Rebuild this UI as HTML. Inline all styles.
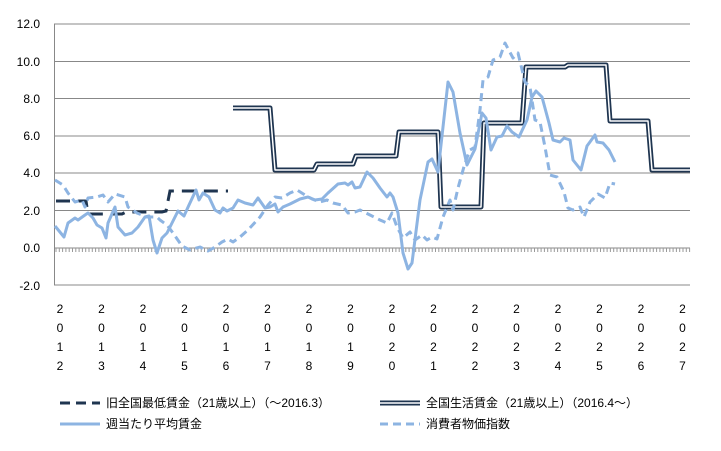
<!DOCTYPE html>
<html><head><meta charset="utf-8"><style>
body{margin:0;background:#fff;}
text{font-family:"Liberation Sans","Noto Sans CJK JP",sans-serif;font-size:12px;fill:#000;}
</style></head><body>
<svg width="721" height="446" xmlns="http://www.w3.org/2000/svg">
<g stroke="#888" stroke-width="1">
<line x1="54" y1="24" x2="690" y2="24"/><line x1="54" y1="61.5" x2="690" y2="61.5"/>
<line x1="54" y1="98.5" x2="690" y2="98.5"/><line x1="54" y1="136" x2="690" y2="136"/>
<line x1="54" y1="173" x2="690" y2="173"/><line x1="54" y1="210.5" x2="690" y2="210.5"/>
<line x1="54" y1="248" x2="690" y2="248"/><line x1="54" y1="285" x2="690" y2="285"/>
<line x1="54.5" y1="24" x2="54.5" y2="285"/>
</g>
<path id="ticks" stroke="#999" stroke-width="1" d=""/>
<g text-anchor="end">
<text x="40" y="28">12.0</text><text x="40" y="66">10.0</text><text x="40" y="103">8.0</text>
<text x="40" y="140">6.0</text><text x="40" y="177">4.0</text><text x="40" y="215">2.0</text>
<text x="40" y="252">0.0</text><text x="40" y="290">-2.0</text>
</g>
<g id="xl" text-anchor="middle"></g>
<polyline fill="none" stroke="#1F3550" stroke-width="3" stroke-dasharray="14,8" points="56,201 86,201 88,214 122,214 126,212 162,212 166,211 170,191 228,191"/>
<g fill="none" stroke-linejoin="round">
<polyline stroke="#1F3550" stroke-width="5" points="233,108 270,108 275,170 314,170 317,164 353,164 356,156 396,156 399,132 438,132 441,207 481,207 484,123 522,123 526,67 565,67 568,65 606,65 610,121 648,121 652,170 690,170"/>
<polyline stroke="#fff" stroke-width="1.5" points="233,108 270,108 275,170 314,170 317,164 353,164 356,156 396,156 399,132 438,132 441,207 481,207 484,123 522,123 526,67 565,67 568,65 606,65 610,121 648,121 652,170 690,170"/>
</g>
<polyline fill="none" stroke="#8DB4E2" stroke-width="3" stroke-linejoin="round" points="55,226 64,237 68,223 75,218 78,220 85,215 88,213 93,218 97,225 102,228 106,238 108,223 115,207 118,227 125,235 132,233 138,227 145,217 149,216 153,240 157,253 162,238 167,233 172,223 178,211 184,216 189,205 196,190 199,200 203,193 209,197 215,210 220,213 223,208 227,211 233,208 238,200 245,203 253,205 258,198 265,208 270,207 275,204 278,212 283,207 290,204 300,199 308,197 315,200 322,199 328,193 338,184 345,183 348,185 352,182 355,188 360,187 367,172 373,178 380,188 387,197 390,193 393,197 398,213 403,253 408,269 412,263 420,200 428,162 432,159 438,172 448,82 453,92 460,133 467,165 475,149 482,113 486,118 491,150 497,137 502,136 507,126 512,132 519,137 527,120 532,97 536,91 542,97 549,123 553,140 560,142 564,138 570,140 573,160 581,170 587,146 595,135 597,142 603,143 609,150 615,162"/>
<polyline fill="none" stroke="#8DB4E2" stroke-width="3" stroke-dasharray="8,5" stroke-linejoin="round" points="55,180 63,185 68,193 75,202 82,200 85,207 88,198 97,197 103,195 108,202 115,194 125,197 128,207 137,213 147,217 157,217 160,220 167,225 173,233 182,246 190,250 200,247 208,251 215,247 222,242 228,239 233,242 240,237 248,230 260,217 268,205 275,197 282,198 290,193 297,190 305,195 312,199 320,202 327,200 333,203 342,205 348,213 355,212 360,210 370,215 380,220 387,223 392,213 397,227 403,238 410,232 415,240 422,235 427,240 432,237 437,239 443,217 450,200 453,210 458,188 465,163 470,150 475,147 480,110 483,80 488,77 493,60 500,57 505,43 513,58 518,53 525,82 530,87 535,120 540,122 545,147 550,175 557,177 564,192 568,208 573,210 580,207 584,217 590,202 598,194 605,198 610,183 615,184"/>
<line x1="60" y1="403" x2="100" y2="403" stroke="#1F3550" stroke-width="3" stroke-dasharray="10,6"/>
<text x="106" y="407">旧全国最低賃金（21歳以上）（～2016.3）</text>
<line x1="380" y1="403" x2="420" y2="403" stroke="#1F3550" stroke-width="5"/>
<line x1="380" y1="403" x2="420" y2="403" stroke="#fff" stroke-width="1.5"/>
<text x="426" y="407">全国生活賃金（21歳以上）（2016.4～）</text>
<line x1="60" y1="424" x2="100" y2="424" stroke="#8DB4E2" stroke-width="3"/>
<text x="106" y="428">週当たり平均賃金</text>
<line x1="380" y1="424" x2="420" y2="424" stroke="#8DB4E2" stroke-width="3" stroke-dasharray="8,5"/>
<text x="426" y="428">消費者物価指数</text>
</svg>
<script>
var d="";for(var i=0;i<=192;i++){var x=(56+i*3.3).toFixed(1);d+="M"+x+" 248V252";}
document.getElementById("ticks").setAttribute("d",d);
var g=document.getElementById("xl"),s="";
for(var y=2012;y<=2027;y++){var x=60+(y-2012)*41.5;var c=String(y).split("");
for(var k=0;k<4;k++)s+='<text x="'+x.toFixed(1)+'" y="'+(313+k*19)+'">'+c[k]+'</text>';}
g.innerHTML=s;
</script>
</body></html>
